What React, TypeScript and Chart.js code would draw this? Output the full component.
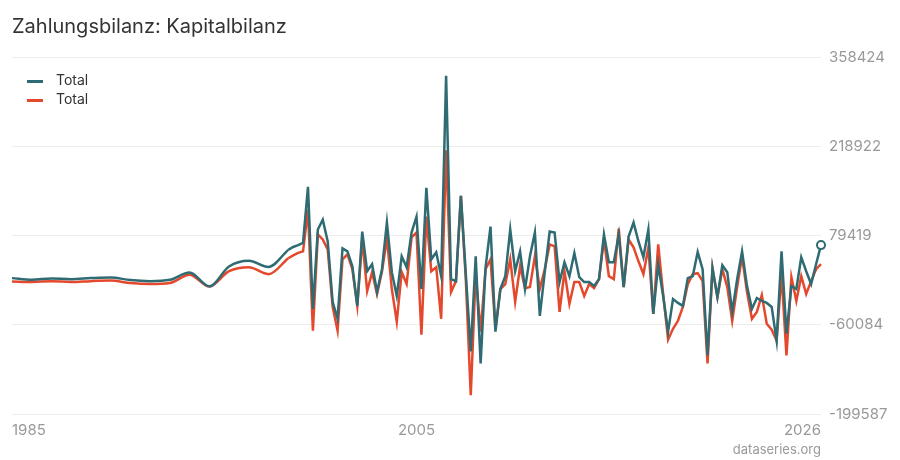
import { useEffect, useRef } from 'react';
import { Chart, registerables } from 'chart.js';

Chart.register(...registerables);

// Annual values before quarterly reporting starts
const annualYears = [1985, 1986, 1987, 1988, 1989, 1990, 1991, 1992, 1993, 1994, 1995, 1996, 1997, 1998];
const tealAnnual = [12800, 10200, 12300, 11200, 12800, 13800, 9700, 8100, 10200, 21600, -100, 31000, 40000, 30300];
const redAnnual = [7700, 6600, 8100, 6600, 8100, 8900, 5000, 3500, 5000, 18200, -400, 23600, 29800, 19000];

// Quarterly values from 1999 on
const quarterStart = 1999;
const tealQuarterly = [
  57000, 61500, 64500, 68000,
  155400, -35300, 88700, 104200,
  70100, -24400, -50800, 59300,
  54600, 31400, -30600, 85600,
  23600, 34500, -8900, 26700,
  99600, 22100, -15100, 46900,
  29800, 84100, 108900, -4300,
  153800, 42200, 53100, 15900,
  329000, 11200, 8100, 141400,
  19000, -101900, 46900, -120500,
  29800, 93400, -70900, -4300,
  15900, 88700, 23600, 54600,
  -4300, 46900, 84100, -46100,
  22100, 85600, 84100, 6600,
  37600, 15900, 52000, 14300,
  6600, 6600, 400, 11200,
  81000, 37600, 37600, 81000,
  -1200, 77900, 99600, 70100,
  45300, 88700, -43000, 34500,
  -15100, -70900, -19800, -26000,
  -30600, 12800, 15900, 53500,
  26700, -108100, 28300, -16700,
  32900, 22100, -40000, 11200,
  54600, 400, -35300, -18300,
  -22900, -26000, -32200, -84900,
  54600, -74000, 400, -4300,
  45300, 23600, 3500, 34500,
  64400,
];
const redQuarterly = [
  43800, 48400, 52300, 54600,
  119700, -69400, 81000, 73200,
  57700, -32200, -69400, 42200,
  50000, 26700, -30600, 73200,
  -7400, 22100, -12000, 23000,
  75000, -4300, -55400, 22100,
  3500, 76300, 84100, -75600,
  108900, 23600, 29800, -50800,
  212700, -8900, 8100, 141400,
  10000, -170100, 20000, -70900,
  26700, 42200, -66000, -4300,
  3500, 42200, -24400, 31400,
  -3000, -1200, 46900, -3600,
  26700, 65500, 62400, -40000,
  23600, -27500, 6600, 6600,
  -15100, 3500, -2700, 11200,
  73200, 15900, 11200, 90300,
  -1200, 73200, 60800, 39100,
  19000, 60800, -43000, 65500,
  -12000, -83300, -66300, -53900,
  -32200, 3500, 19000, 20500,
  8100, -120500, 28300, -16700,
  26700, -1200, -53900, -1200,
  46900, -8900, -50800, -40000,
  -13600, -58500, -67800, -84900,
  19000, -108100, 14300, -22900,
  15900, -12000, 8100, 26700,
  34500,
];

const xTickValues = [1985, 2005.5, 2026];
const xTickLabels = ['1985', '2005', '2026'];
const yTickValues = [-199587, -60084, 79419, 218922, 358424];

const TEAL = '#2e6b72';
const RED = '#e5492d';
const GREY = '#999999';

// annual part, joined to the first quarter so the two pieces meet
function annualSeries(annual: number[], quarterly: number[]) {
  const pts = annualYears.map((year, i) => ({ x: year, y: annual[i] }));
  pts.push({ x: quarterStart, y: quarterly[0] });
  return pts;
}

function quarterlySeries(quarterly: number[]) {
  return quarterly.map((v, i) => ({ x: quarterStart + i / 4, y: v }));
}

// short bar used as legend symbol
function legendMarker(color: string) {
  const c = document.createElement('canvas');
  c.width = 20;
  c.height = 3;
  const g = c.getContext('2d');
  if (g) {
    g.fillStyle = color;
    g.fillRect(4, 0, 16, 3);
  }
  return c;
}

const sourcePlugin = {
  id: 'sourceNote',
  afterDraw(chart: any) {
    const { ctx, chartArea } = chart;
    ctx.save();
    ctx.font = '13px Inter';
    ctx.fillStyle = GREY;
    ctx.textAlign = 'right';
    ctx.textBaseline = 'middle';
    ctx.fillText('dataseries.org', chartArea.right, chart.height - 10);
    ctx.restore();
  },
};

const App = () => {
  const chartRef = useRef<HTMLCanvasElement>(null);
  const chartInstance = useRef<Chart | null>(null);

  useEffect(() => {
    document.body.style.margin = '0';
    if (!chartRef.current) return;
    if (chartInstance.current) chartInstance.current.destroy();

    const tealQ = quarterlySeries(tealQuarterly);
    const redQ = quarterlySeries(redQuarterly);
    const lastTeal = tealQ.length - 1;
    const legendItems = [
      { color: TEAL, marker: legendMarker(TEAL), index: 0 },
      { color: RED, marker: legendMarker(RED), index: 2 },
    ];

    const lineStyle = {
      borderWidth: 2.5,
      pointRadius: 0,
      clip: false,
    };

    chartInstance.current = new Chart(chartRef.current, {
      type: 'line',
      data: {
        datasets: [
          {
            ...lineStyle,
            label: 'Total',
            data: tealQ,
            borderColor: TEAL,
            backgroundColor: TEAL,
            tension: 0,
            pointRadius: (ctx: any) => (ctx.dataIndex === lastTeal ? 4 : 0),
            pointBackgroundColor: '#ffffff',
            pointBorderColor: TEAL,
            pointBorderWidth: 2,
          },
          {
            ...lineStyle,
            label: 'Total',
            data: annualSeries(tealAnnual, tealQuarterly),
            borderColor: TEAL,
            backgroundColor: TEAL,
            cubicInterpolationMode: 'monotone',
          },
          {
            ...lineStyle,
            label: 'Total',
            data: redQ,
            borderColor: RED,
            backgroundColor: RED,
            tension: 0,
          },
          {
            ...lineStyle,
            label: 'Total',
            data: annualSeries(redAnnual, redQuarterly),
            borderColor: RED,
            backgroundColor: RED,
            cubicInterpolationMode: 'monotone',
          },
        ],
      },
      options: {
        responsive: true,
        maintainAspectRatio: false,
        animation: false,
        layout: { padding: { left: 12, right: 0, top: 0, bottom: 0 } },
        font: { family: 'Inter' },
        plugins: {
          title: {
            display: true,
            text: 'Zahlungsbilanz: Kapitalbilanz',
            align: 'start',
            color: '#333333',
            font: { family: 'Inter', size: 20, weight: 'normal', lineHeight: 1.2 },
            padding: { top: 15, bottom: 18 },
          },
          legend: {
            position: 'chartArea',
            align: 'start',
            // empty title only pushes the items down inside the plot
            title: {
              display: true,
              text: '',
              font: { size: 10, lineHeight: 1 },
              padding: { top: 0, bottom: 59 },
            },
            labels: {
              usePointStyle: true,
              pointStyleWidth: 32,
              padding: 5,
              color: '#333333',
              font: { family: 'Inter', size: 14 },
              generateLabels: (chart: any) =>
                legendItems.map((item) => ({
                  text: chart.data.datasets[item.index].label,
                  pointStyle: item.marker,
                  fillStyle: item.color,
                  strokeStyle: item.color,
                  fontColor: '#333333',
                  lineWidth: 0,
                  hidden: false,
                  datasetIndex: item.index,
                })),
            },
          },
          tooltip: { enabled: false },
        },
        scales: {
          x: {
            type: 'linear',
            min: 1985,
            max: 2026,
            grid: { display: false, drawTicks: false },
            border: { display: false },
            afterBuildTicks: (axis: any) => {
              axis.ticks = xTickValues.map((v) => ({ value: v }));
            },
            afterFit: (axis: any) => {
              axis.height = 46;
            },
            ticks: {
              align: 'inner',
              autoSkip: false,
              maxRotation: 0,
              padding: 7,
              color: GREY,
              font: { family: 'Inter', size: 15 },
              callback: (_v: any, i: number) => xTickLabels[i],
            },
          },
          y: {
            position: 'right',
            min: yTickValues[0],
            max: yTickValues[yTickValues.length - 1],
            grid: { color: '#ececec', drawTicks: false },
            border: { display: false },
            afterBuildTicks: (axis: any) => {
              axis.ticks = yTickValues.map((v) => ({ value: v }));
            },
            afterFit: (axis: any) => {
              axis.width = 79;
            },
            ticks: {
              padding: 8,
              color: GREY,
              font: { family: 'Inter', size: 15 },
              callback: (v: any) => String(v),
            },
          },
        },
      } as any,
      plugins: [sourcePlugin],
    });

    return () => {
      if (chartInstance.current) {
        chartInstance.current.destroy();
        chartInstance.current = null;
      }
    };
  }, []);

  return (
    <div style={{ width: 900, height: 460, position: 'relative' }}>
      <canvas ref={chartRef}></canvas>
    </div>
  );
};

export default App;
